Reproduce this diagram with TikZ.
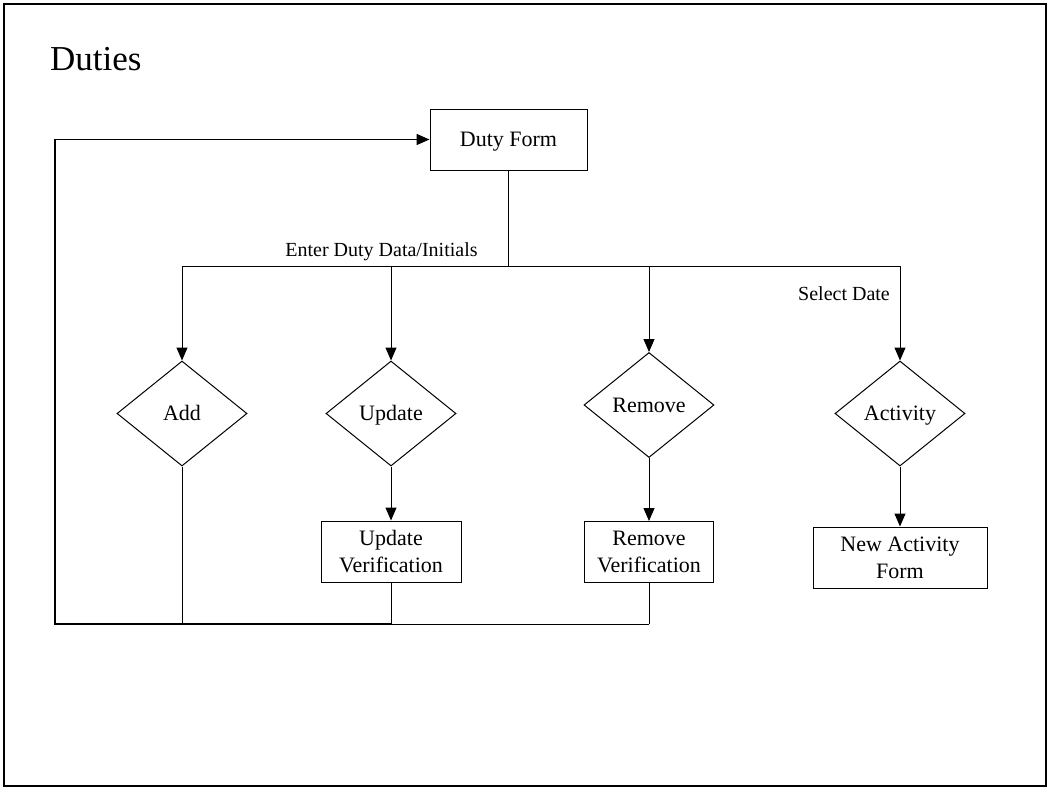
\documentclass[tikz,border=0pt]{standalone}
\usepackage{fontspec}
\setmainfont{Liberation Serif}
\usetikzlibrary{shapes.geometric,arrows.meta}
\begin{document}
\begin{tikzpicture}[x=1pt,y=-1pt,
 box/.style={draw,line width=1pt,rectangle,minimum width=#1,minimum height=61pt,inner sep=0pt,align=center,font=\fontsize{22}{27}\selectfont},
 box/.default=140pt,
 one/.style={text height=14.5pt,text depth=0pt},
 dec/.style={draw,line width=1pt,diamond,minimum width=130pt,minimum height=105pt,inner sep=0pt,one,font=\fontsize{22}{27}\selectfont},
 conn/.style={line width=1pt},
 arr/.style={conn,-{Triangle[length=13pt,width=11pt]}},
 lbl/.style={font=\fontsize{20}{24}\selectfont,inner sep=0pt,anchor=base}]
\useasboundingbox (0,0) rectangle (1050,790);
\draw[line width=2pt] (4,4) rectangle (1046,786);
\node[anchor=base west,font=\fontsize{35}{40}\selectfont,inner sep=0pt] (title) at (50,70) {Duties};

\node[box=157pt,one] (df) at (508.5,139.5) {Duty Form};
\node[dec] (add) at (182,413.5) {Add};
\node[dec] (upd) at (391,413.5) {Update};
\node[dec] (rem) at (649,405) {Remove};
\node[dec] (act) at (900,413.5) {Activity};
\node[box=140pt] (uv) at (391,551.5) {Update\\Verification};
\node[box=129pt] (rv) at (649,552) {Remove\\Verification};
\node[box=174pt] (naf) at (900,557.5) {New Activity\\Form};

\node[lbl] (l1) at (381.5,256) {Enter Duty Data/Initials};
\node[lbl] (l2) at (844,300) {Select Date};

\coordinate (top) at (508.5,266);
\coordinate (ja) at (182,266);
\coordinate (ju) at (391,266);
\coordinate (jr) at (649,266);
\coordinate (jact) at (900,266);
\coordinate (bl) at (55,624);
\coordinate (ba) at (182,624);
\coordinate (bu) at (391,624);
\coordinate (br) at (649,624);
\coordinate (tl) at (55,139.5);

\draw[conn] (df.south) -- (top);
\draw[conn] (ja) -- (jact);
\draw[arr] (ja) -- (add.north);
\draw[arr] (ju) -- (upd.north);
\draw[arr] (jr) -- (rem.north);
\draw[arr] (jact) -- (act.north);
\draw[arr] (upd.south) -- (uv.north);
\draw[arr] (rem.south) -- (rv.north);
\draw[arr] (act.south) -- (naf.north);
\draw[conn] (add.south) -- (ba);
\draw[conn] (uv.south) -- (bu);
\draw[conn] (rv.south) -- (br);
\draw[conn] (br) -- (bu);
\draw[conn,line width=1.3pt] (bu) -- (ba);
\draw[arr,line width=1.6pt] (ba) -- (bl) -- (tl) -- (df.west);
\end{tikzpicture}
\end{document}
